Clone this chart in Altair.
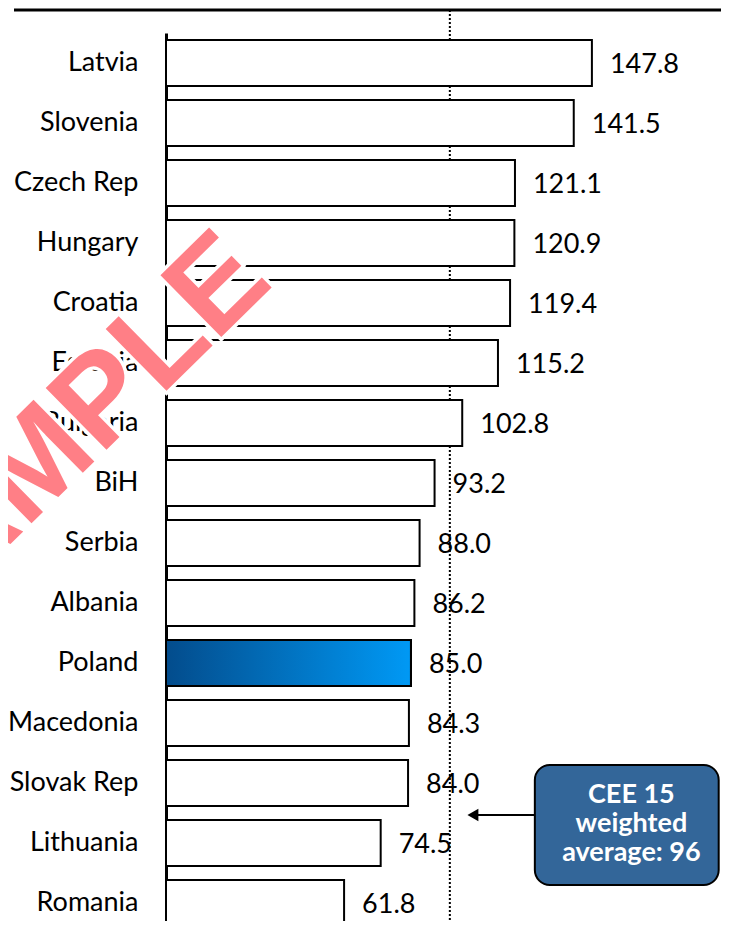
import altair as alt
import pandas as pd

countries = ["Latvia", "Slovenia", "Czech Rep", "Hungary", "Croatia", "Estonia",
             "Bulgaria", "BiH", "Serbia", "Albania", "Poland", "Macedonia",
             "Slovak Rep", "Lithuania", "Romania"]
values = [147.8, 141.5, 121.1, 120.9, 119.4, 115.2, 102.8, 93.2, 88.0, 86.2,
          85.0, 84.3, 84.0, 74.5, 61.8]
highlight = "Poland"
avg_line_pos = [98.5]          # position of dotted reference line
callout_lines = ["CEE 15", "weighted", "average: 96"]
watermark = "SAMPLE"

df = pd.DataFrame({"country": countries, "value": values})
ref_df = pd.DataFrame({"value": avg_line_pos})

FONT = "Lato"
xscale = alt.Scale(domain=[0, 192.6], nice=False, zero=True)
yscale = alt.Scale(domain=countries, range=[0, 900],
                   paddingInner=14 / 60, paddingOuter=7 / 60)

X = alt.X("value:Q", axis=None, scale=xscale)
Y = alt.Y("country:N", sort=countries, scale=yscale, title=None,
          axis=alt.Axis(domainColor="black", domainWidth=3, ticks=False,
                        labelPadding=28, labelFont=FONT, labelFontSize=27,
                        labelColor="black", grid=False, labelLimit=300))

bars = alt.Chart(df).mark_bar(fill="white", stroke="black", strokeWidth=2).encode(x=X, y=Y)

poland = alt.Chart(df).transform_filter(alt.datum.country == highlight).mark_bar(
    fill=alt.Gradient(gradient="linear",
                      stops=[alt.GradientStop(color="#034C8C", offset=0),
                             alt.GradientStop(color="#0099F5", offset=1)],
                      x1=0, x2=1, y1=0, y2=0),
    stroke="black", strokeWidth=2).encode(x=X, y=Y)

labels = alt.Chart(df).mark_text(align="left", baseline="middle", dx=18, dy=2,
                                 font=FONT, fontSize=27, color="black").encode(
    x=X, y=Y, text=alt.Text("value:Q", format=".1f"))

ref = alt.Chart(ref_df).mark_rule(color="black", strokeWidth=2, strokeDash=[2, 2]).encode(
    x=alt.X("value:Q", scale=xscale, axis=None),
    y=alt.value(-23), y2=alt.value(900))

top_line = alt.Chart(ref_df).mark_rule(color="black", strokeWidth=3).encode(
    x=alt.value(-152), x2=alt.value(570), y=alt.value(-23))

box = alt.Chart(ref_df).mark_rect(cornerRadius=15, fill="#336699", stroke="black",
                                  strokeWidth=2).encode(
    x=alt.datum(128.0, scale=xscale), x2=alt.datum(191.8),
    y=alt.value(732), y2=alt.value(852))

box_text = alt.Chart(ref_df).mark_text(text=callout_lines, font=FONT, fontSize=27,
                                       fontWeight="bold", color="white", align="center",
                                       baseline="middle", lineHeight=29).encode(
    x=alt.datum(161.5, scale=xscale), y=alt.value(762))

arrow_line = alt.Chart(ref_df).mark_rule(color="black", strokeWidth=2).encode(
    x=alt.datum(108.0, scale=xscale), x2=alt.datum(128.0), y=alt.value(782))

arrow_head = alt.Chart(ref_df).mark_point(shape="triangle-left", filled=True, color="black",
                                          opacity=1, size=160).encode(
    x=alt.datum(106.5, scale=xscale), y=alt.value(782))

wm_props = dict(text=watermark, font="Liberation Sans", fontSize=126, fontWeight="bold",
                angle=315.5, align="center", baseline="alphabetic")
wm_halo = alt.Chart(ref_df).mark_text(fill="white", stroke="white", strokeWidth=7,
                                      **wm_props).encode(x=alt.value(-78), y=alt.value(435))
wm = alt.Chart(ref_df).mark_text(fill="#FF7F86", **wm_props).encode(
    x=alt.value(-78), y=alt.value(435))

chart = alt.layer(top_line, ref, bars, poland, labels, arrow_line, arrow_head, box,
                  box_text, wm_halo, wm).properties(
    width=555, height=888,
    padding={"left": 158, "top": 25, "right": 0, "bottom": 0},
    autosize=alt.AutoSizeParams(type="none"),
    background="white",
).configure_view(stroke=None)

chart.save("out.html", embed_options={"renderer": "svg", "actions": False})
